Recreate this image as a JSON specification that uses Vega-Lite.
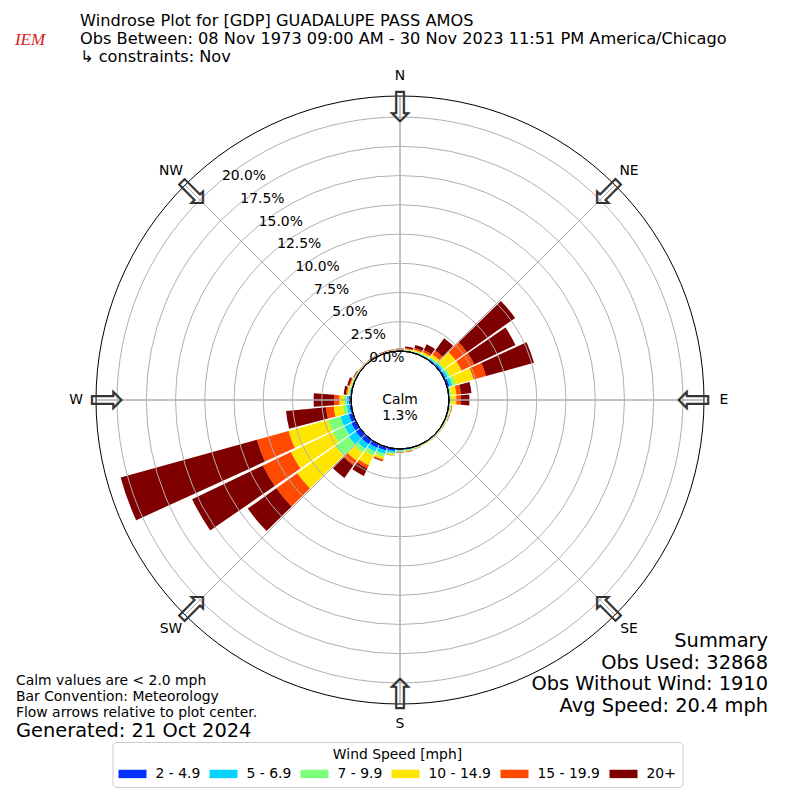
{
"$schema": "https://vega.github.io/schema/vega-lite/v6.json",
"width": 800, "height": 800, "padding": 0, "autosize": {"type": "none"},
"background": "white",
"config": {"view": {"stroke": null}, "font": "DejaVu Sans", "text": {"font": "DejaVu Sans", "color": "black"}},
"datasets": {
"bars": [
{"dir":0,"speed":"2 - 4.9","pct":0.03},{"dir":0,"speed":"5 - 6.9","pct":0.03},{"dir":0,"speed":"7 - 9.9","pct":0.03},{"dir":0,"speed":"10 - 14.9","pct":0.04},{"dir":0,"speed":"15 - 19.9","pct":0.03},{"dir":0,"speed":"20+","pct":0.05},
{"dir":10,"speed":"2 - 4.9","pct":0.04},{"dir":10,"speed":"5 - 6.9","pct":0.04},{"dir":10,"speed":"7 - 9.9","pct":0.04},{"dir":10,"speed":"10 - 14.9","pct":0.08},{"dir":10,"speed":"15 - 19.9","pct":0.06},{"dir":10,"speed":"20+","pct":0.14},
{"dir":20,"speed":"2 - 4.9","pct":0.05},{"dir":20,"speed":"5 - 6.9","pct":0.05},{"dir":20,"speed":"7 - 9.9","pct":0.05},{"dir":20,"speed":"10 - 14.9","pct":0.12},{"dir":20,"speed":"15 - 19.9","pct":0.13},{"dir":20,"speed":"20+","pct":0.30},
{"dir":30,"speed":"2 - 4.9","pct":0.06},{"dir":30,"speed":"5 - 6.9","pct":0.06},{"dir":30,"speed":"7 - 9.9","pct":0.06},{"dir":30,"speed":"10 - 14.9","pct":0.17},{"dir":30,"speed":"15 - 19.9","pct":0.20},{"dir":30,"speed":"20+","pct":0.55},
{"dir":40,"speed":"2 - 4.9","pct":0.10},{"dir":40,"speed":"5 - 6.9","pct":0.10},{"dir":40,"speed":"7 - 9.9","pct":0.10},{"dir":40,"speed":"10 - 14.9","pct":0.30},{"dir":40,"speed":"15 - 19.9","pct":0.40},{"dir":40,"speed":"20+","pct":1.30},
{"dir":50,"speed":"2 - 4.9","pct":0.15},{"dir":50,"speed":"5 - 6.9","pct":0.15},{"dir":50,"speed":"7 - 9.9","pct":0.15},{"dir":50,"speed":"10 - 14.9","pct":1.20},{"dir":50,"speed":"15 - 19.9","pct":1.20},{"dir":50,"speed":"20+","pct":5.05},
{"dir":60,"speed":"2 - 4.9","pct":0.15},{"dir":60,"speed":"5 - 6.9","pct":0.20},{"dir":60,"speed":"7 - 9.9","pct":0.20},{"dir":60,"speed":"10 - 14.9","pct":1.10},{"dir":60,"speed":"15 - 19.9","pct":1.20},{"dir":60,"speed":"20+","pct":3.90},
{"dir":70,"speed":"2 - 4.9","pct":0.20},{"dir":70,"speed":"5 - 6.9","pct":0.25},{"dir":70,"speed":"7 - 9.9","pct":0.30},{"dir":70,"speed":"10 - 14.9","pct":1.60},{"dir":70,"speed":"15 - 19.9","pct":1.10},{"dir":70,"speed":"20+","pct":4.25},
{"dir":80,"speed":"2 - 4.9","pct":0.06},{"dir":80,"speed":"5 - 6.9","pct":0.06},{"dir":80,"speed":"7 - 9.9","pct":0.08},{"dir":80,"speed":"10 - 14.9","pct":0.45},{"dir":80,"speed":"15 - 19.9","pct":0.40},{"dir":80,"speed":"20+","pct":0.90},
{"dir":90,"speed":"2 - 4.9","pct":0.06},{"dir":90,"speed":"5 - 6.9","pct":0.06},{"dir":90,"speed":"7 - 9.9","pct":0.06},{"dir":90,"speed":"10 - 14.9","pct":0.45},{"dir":90,"speed":"15 - 19.9","pct":0.40},{"dir":90,"speed":"20+","pct":0.72},
{"dir":100,"speed":"2 - 4.9","pct":0.06},{"dir":100,"speed":"5 - 6.9","pct":0.05},{"dir":100,"speed":"7 - 9.9","pct":0.05},{"dir":100,"speed":"10 - 14.9","pct":0.08},{"dir":100,"speed":"15 - 19.9","pct":0.04},{"dir":100,"speed":"20+","pct":0.02},
{"dir":110,"speed":"2 - 4.9","pct":0.05},{"dir":110,"speed":"5 - 6.9","pct":0.05},{"dir":110,"speed":"7 - 9.9","pct":0.05},{"dir":110,"speed":"10 - 14.9","pct":0.05},{"dir":110,"speed":"15 - 19.9","pct":0.03},{"dir":110,"speed":"20+","pct":0.02},
{"dir":120,"speed":"2 - 4.9","pct":0.05},{"dir":120,"speed":"5 - 6.9","pct":0.04},{"dir":120,"speed":"7 - 9.9","pct":0.04},{"dir":120,"speed":"10 - 14.9","pct":0.04},{"dir":120,"speed":"15 - 19.9","pct":0.02},{"dir":120,"speed":"20+","pct":0.01},
{"dir":130,"speed":"2 - 4.9","pct":0.04},{"dir":130,"speed":"5 - 6.9","pct":0.03},{"dir":130,"speed":"7 - 9.9","pct":0.03},{"dir":130,"speed":"10 - 14.9","pct":0.03},{"dir":130,"speed":"15 - 19.9","pct":0.01},{"dir":130,"speed":"20+","pct":0.01},
{"dir":140,"speed":"2 - 4.9","pct":0.04},{"dir":140,"speed":"5 - 6.9","pct":0.03},{"dir":140,"speed":"7 - 9.9","pct":0.03},{"dir":140,"speed":"10 - 14.9","pct":0.03},{"dir":140,"speed":"15 - 19.9","pct":0.01},{"dir":140,"speed":"20+","pct":0.01},
{"dir":150,"speed":"2 - 4.9","pct":0.04},{"dir":150,"speed":"5 - 6.9","pct":0.03},{"dir":150,"speed":"7 - 9.9","pct":0.03},{"dir":150,"speed":"10 - 14.9","pct":0.03},{"dir":150,"speed":"15 - 19.9","pct":0.01},{"dir":150,"speed":"20+","pct":0.01},
{"dir":160,"speed":"2 - 4.9","pct":0.05},{"dir":160,"speed":"5 - 6.9","pct":0.04},{"dir":160,"speed":"7 - 9.9","pct":0.04},{"dir":160,"speed":"10 - 14.9","pct":0.04},{"dir":160,"speed":"15 - 19.9","pct":0.02},{"dir":160,"speed":"20+","pct":0.01},
{"dir":170,"speed":"2 - 4.9","pct":0.08},{"dir":170,"speed":"5 - 6.9","pct":0.06},{"dir":170,"speed":"7 - 9.9","pct":0.05},{"dir":170,"speed":"10 - 14.9","pct":0.06},{"dir":170,"speed":"15 - 19.9","pct":0.03},{"dir":170,"speed":"20+","pct":0.02},
{"dir":180,"speed":"2 - 4.9","pct":0.10},{"dir":180,"speed":"5 - 6.9","pct":0.07},{"dir":180,"speed":"7 - 9.9","pct":0.06},{"dir":180,"speed":"10 - 14.9","pct":0.07},{"dir":180,"speed":"15 - 19.9","pct":0.03},{"dir":180,"speed":"20+","pct":0.02},
{"dir":190,"speed":"2 - 4.9","pct":0.20},{"dir":190,"speed":"5 - 6.9","pct":0.15},{"dir":190,"speed":"7 - 9.9","pct":0.12},{"dir":190,"speed":"10 - 14.9","pct":0.10},{"dir":190,"speed":"15 - 19.9","pct":0.02},{"dir":190,"speed":"20+","pct":0.01},
{"dir":200,"speed":"2 - 4.9","pct":0.30},{"dir":200,"speed":"5 - 6.9","pct":0.30},{"dir":200,"speed":"7 - 9.9","pct":0.25},{"dir":200,"speed":"10 - 14.9","pct":0.25},{"dir":200,"speed":"15 - 19.9","pct":0.10},{"dir":200,"speed":"20+","pct":0.05},
{"dir":210,"speed":"2 - 4.9","pct":0.35},{"dir":210,"speed":"5 - 6.9","pct":0.35},{"dir":210,"speed":"7 - 9.9","pct":0.40},{"dir":210,"speed":"10 - 14.9","pct":0.90},{"dir":210,"speed":"15 - 19.9","pct":0.30},{"dir":210,"speed":"20+","pct":0.70},
{"dir":220,"speed":"2 - 4.9","pct":0.45},{"dir":220,"speed":"5 - 6.9","pct":0.48},{"dir":220,"speed":"7 - 9.9","pct":0.42},{"dir":220,"speed":"10 - 14.9","pct":0.85},{"dir":220,"speed":"15 - 19.9","pct":0.47},{"dir":220,"speed":"20+","pct":1.33},
{"dir":230,"speed":"2 - 4.9","pct":0.46},{"dir":230,"speed":"5 - 6.9","pct":0.74},{"dir":230,"speed":"7 - 9.9","pct":1.40},{"dir":230,"speed":"10 - 14.9","pct":4.00},{"dir":230,"speed":"15 - 19.9","pct":2.20},{"dir":230,"speed":"20+","pct":3.00},
{"dir":240,"speed":"2 - 4.9","pct":0.43},{"dir":240,"speed":"5 - 6.9","pct":0.64},{"dir":240,"speed":"7 - 9.9","pct":1.13},{"dir":240,"speed":"10 - 14.9","pct":3.95},{"dir":240,"speed":"15 - 19.9","pct":2.65},{"dir":240,"speed":"20+","pct":6.70},
{"dir":250,"speed":"2 - 4.9","pct":0.35},{"dir":250,"speed":"5 - 6.9","pct":0.75},{"dir":250,"speed":"7 - 9.9","pct":1.10},{"dir":250,"speed":"10 - 14.9","pct":3.50},{"dir":250,"speed":"15 - 19.9","pct":2.80},{"dir":250,"speed":"20+","pct":12.10},
{"dir":260,"speed":"2 - 4.9","pct":0.15},{"dir":260,"speed":"5 - 6.9","pct":0.23},{"dir":260,"speed":"7 - 9.9","pct":0.35},{"dir":260,"speed":"10 - 14.9","pct":0.77},{"dir":260,"speed":"15 - 19.9","pct":0.67},{"dir":260,"speed":"20+","pct":3.43},
{"dir":270,"speed":"2 - 4.9","pct":0.20},{"dir":270,"speed":"5 - 6.9","pct":0.17},{"dir":270,"speed":"7 - 9.9","pct":0.23},{"dir":270,"speed":"10 - 14.9","pct":0.40},{"dir":270,"speed":"15 - 19.9","pct":0.45},{"dir":270,"speed":"20+","pct":1.75},
{"dir":280,"speed":"2 - 4.9","pct":0.08},{"dir":280,"speed":"5 - 6.9","pct":0.07},{"dir":280,"speed":"7 - 9.9","pct":0.08},{"dir":280,"speed":"10 - 14.9","pct":0.12},{"dir":280,"speed":"15 - 19.9","pct":0.10},{"dir":280,"speed":"20+","pct":0.20},
{"dir":290,"speed":"2 - 4.9","pct":0.05},{"dir":290,"speed":"5 - 6.9","pct":0.05},{"dir":290,"speed":"7 - 9.9","pct":0.06},{"dir":290,"speed":"10 - 14.9","pct":0.10},{"dir":290,"speed":"15 - 19.9","pct":0.07},{"dir":290,"speed":"20+","pct":0.17},
{"dir":300,"speed":"2 - 4.9","pct":0.04},{"dir":300,"speed":"5 - 6.9","pct":0.03},{"dir":300,"speed":"7 - 9.9","pct":0.04},{"dir":300,"speed":"10 - 14.9","pct":0.05},{"dir":300,"speed":"15 - 19.9","pct":0.04},{"dir":300,"speed":"20+","pct":0.05},
{"dir":310,"speed":"2 - 4.9","pct":0.03},{"dir":310,"speed":"5 - 6.9","pct":0.02},{"dir":310,"speed":"7 - 9.9","pct":0.03},{"dir":310,"speed":"10 - 14.9","pct":0.03},{"dir":310,"speed":"15 - 19.9","pct":0.02},{"dir":310,"speed":"20+","pct":0.02},
{"dir":320,"speed":"2 - 4.9","pct":0.03},{"dir":320,"speed":"5 - 6.9","pct":0.02},{"dir":320,"speed":"7 - 9.9","pct":0.02},{"dir":320,"speed":"10 - 14.9","pct":0.03},{"dir":320,"speed":"15 - 19.9","pct":0.02},{"dir":320,"speed":"20+","pct":0.02},
{"dir":330,"speed":"2 - 4.9","pct":0.03},{"dir":330,"speed":"5 - 6.9","pct":0.02},{"dir":330,"speed":"7 - 9.9","pct":0.02},{"dir":330,"speed":"10 - 14.9","pct":0.03},{"dir":330,"speed":"15 - 19.9","pct":0.02},{"dir":330,"speed":"20+","pct":0.02},
{"dir":340,"speed":"2 - 4.9","pct":0.03},{"dir":340,"speed":"5 - 6.9","pct":0.02},{"dir":340,"speed":"7 - 9.9","pct":0.02},{"dir":340,"speed":"10 - 14.9","pct":0.03},{"dir":340,"speed":"15 - 19.9","pct":0.02},{"dir":340,"speed":"20+","pct":0.03},
{"dir":350,"speed":"2 - 4.9","pct":0.03},{"dir":350,"speed":"5 - 6.9","pct":0.02},{"dir":350,"speed":"7 - 9.9","pct":0.03},{"dir":350,"speed":"10 - 14.9","pct":0.03},{"dir":350,"speed":"15 - 19.9","pct":0.03},{"dir":350,"speed":"20+","pct":0.04}
],
"rings": [{"v":2.5},{"v":5},{"v":7.5},{"v":10},{"v":12.5},{"v":15},{"v":17.5},{"v":20}],
"rlabels": [{"v":0,"label":"0.0%"},{"v":2.5,"label":"2.5%"},{"v":5,"label":"5.0%"},{"v":7.5,"label":"7.5%"},{"v":10,"label":"10.0%"},{"v":12.5,"label":"12.5%"},{"v":15,"label":"15.0%"},{"v":17.5,"label":"17.5%"},{"v":20,"label":"20.0%"}],
"dirs": [{"ang":0,"name":"N"},{"ang":45,"name":"NE"},{"ang":90,"name":"E"},{"ang":135,"name":"SE"},{"ang":180,"name":"S"},{"ang":225,"name":"SW"},{"ang":270,"name":"W"},{"ang":315,"name":"NW"}]
},
"layer": [
{
"data": {"name": "bars"},
"transform": [
{"calculate": "indexof(['2 - 4.9','5 - 6.9','7 - 9.9','10 - 14.9','15 - 19.9','20+'], datum.speed)", "as": "k"},
{"stack": "pct", "groupby": ["dir"], "sort": [{"field": "k", "order": "ascending"}], "as": ["r0", "r1"]},
{"calculate": "datum.dir - 4.5", "as": "a0"},
{"calculate": "datum.dir + 4.5", "as": "a1"}
],
"mark": {"type": "arc"},
"encoding": {
"theta": {"field": "a0", "type": "quantitative", "stack": null, "scale": {"type": "linear", "domain": [0, 360], "range": [0, 6.283185307179586]}},
"theta2": {"field": "a1"},
"radius": {"field": "r0", "type": "quantitative", "stack": null, "scale": {"type": "linear", "domain": [0, 21.8], "range": [49, 304], "zero": false}},
"radius2": {"field": "r1"},
"color": {"field": "speed", "type": "nominal",
"scale": {"domain": ["2 - 4.9","5 - 6.9","7 - 9.9","10 - 14.9","15 - 19.9","20+"], "range": ["#0130ff","#00d4ff","#7dff7a","#ffe600","#ff4a00","#7f0000"]},
"legend": {"title": "Wind Speed [mph]", "orient": "none", "legendX": 112.5, "legendY": 742, "direction": "horizontal", "columns": 6,
"symbolType": "M-1,-0.6H3V0.6H-1Z", "symbolSize": 196, "symbolStrokeWidth": 0, "symbolOpacity": 1,
"labelFontSize": 13.9, "titleFontSize": 13.9, "titleFontWeight": "normal", "titleAnchor": "middle",
"labelFont": "DejaVu Sans", "titleFont": "DejaVu Sans", "labelColor": "black", "titleColor": "black",
"strokeColor": "#cccccc", "fillColor": "white", "cornerRadius": 4, "padding": 6,
"columnPadding": 9, "labelOffset": 23, "titlePadding": 5}}
}
},
{
"data": {"name": "rings"},
"mark": {"type": "arc", "filled": false, "stroke": "#b0b0b0", "strokeWidth": 1},
"encoding": {
"theta": {"value": 0}, "theta2": {"value": 6.2832},
"radius": {"field": "v", "type": "quantitative", "stack": null, "scale": {"type": "linear", "domain": [0, 21.8], "range": [49, 304], "zero": false}}
}
},
{
"data": {"name": "dirs"},
"mark": {"type": "arc", "filled": false, "stroke": "#b0b0b0", "strokeWidth": 1},
"encoding": {
"theta": {"field": "ang", "type": "quantitative", "stack": null, "scale": {"type": "linear", "domain": [0, 360], "range": [0, 6.283185307179586]}},
"theta2": {"field": "ang"},
"radius": {"datum": 0, "type": "quantitative", "scale": {"type": "linear", "domain": [0, 21.8], "range": [49, 304], "zero": false}},
"radius2": {"datum": 21.8}
}
},
{
"data": {"values": [{"c": "outer"}]},
"mark": {"type": "arc", "filled": false, "stroke": "black", "strokeWidth": 1},
"encoding": {
"theta": {"value": 0}, "theta2": {"value": 6.2832},
"radius": {"datum": 21.8, "type": "quantitative", "scale": {"type": "linear", "domain": [0, 21.8], "range": [49, 304], "zero": false}}
}
},
{
"data": {"values": [{"c": "calm"}]},
"mark": {"type": "arc", "fill": "white", "stroke": "black", "strokeWidth": 1},
"encoding": {
"theta": {"value": 0}, "theta2": {"value": 6.2832},
"radius": {"datum": 0, "type": "quantitative", "scale": {"type": "linear", "domain": [0, 21.8], "range": [49, 304], "zero": false}}
}
},
{
"data": {"values": [{"c": "calm"}]},
"mark": {"type": "text", "fontSize": 13.9, "align": "center", "baseline": "middle", "lineHeight": 16},
"encoding": {"theta": {"value": 0}, "radius": {"value": 0}, "text": {"value": ["Calm", "1.3%"]}}
},
{
"data": {"name": "rlabels"},
"mark": {"type": "text", "fontSize": 13.9, "align": "left", "baseline": "alphabetic"},
"encoding": {
"theta": {"datum": 321, "type": "quantitative", "scale": {"type": "linear", "domain": [0, 360], "range": [0, 6.283185307179586]}},
"radius": {"field": "v", "type": "quantitative", "stack": null, "scale": {"type": "linear", "domain": [0, 21.8], "range": [49, 304], "zero": false}},
"text": {"field": "label"}
}
},
{
"data": {"name": "dirs"},
"mark": {"type": "text", "fontSize": 13.9, "align": "center", "baseline": "middle"},
"encoding": {
"theta": {"field": "ang", "type": "quantitative", "stack": null, "scale": {"type": "linear", "domain": [0, 360], "range": [0, 6.283185307179586]}},
"radius": {"datum": 23.5, "type": "quantitative", "scale": {"type": "linear", "domain": [0, 21.8], "range": [49, 304], "zero": false}},
"text": {"field": "name"}
}
},
{
"data": {"name": "dirs"},
"mark": {"type": "text", "fontSize": 43, "align": "center", "baseline": "middle", "color": "#333333"},
"encoding": {
"theta": {"field": "ang", "type": "quantitative", "stack": null, "scale": {"type": "linear", "domain": [0, 360], "range": [0, 6.283185307179586]}},
"radius": {"datum": 20.7, "type": "quantitative", "scale": {"type": "linear", "domain": [0, 21.8], "range": [49, 304], "zero": false}},
"angle": {"field": "ang", "type": "quantitative", "scale": null},
"text": {"value": "⇩"}
}
},
{
"data": {"values": [{"c": "t"}]},
"mark": {"type": "text", "fontSize": 16.2, "align": "left", "baseline": "alphabetic", "lineHeight": 18},
"encoding": {"x": {"value": 80}, "y": {"value": 26},
"text": {"value": ["Windrose Plot for [GDP] GUADALUPE PASS AMOS", "Obs Between: 08 Nov 1973 09:00 AM - 30 Nov 2023 11:51 PM America/Chicago", " ↳ constraints: Nov"]}}
},
{
"data": {"values": [{"c": "t"}]},
"mark": {"type": "text", "fontSize": 17, "align": "center", "baseline": "alphabetic", "font": "Liberation Serif", "fontStyle": "italic", "color": "#d42020"},
"encoding": {"x": {"value": 30}, "y": {"value": 45}, "text": {"value": "IEM"}}
},
{
"data": {"values": [{"c": "t"}]},
"mark": {"type": "text", "fontSize": 13.9, "align": "left", "baseline": "alphabetic", "lineHeight": 16},
"encoding": {"x": {"value": 16}, "y": {"value": 685},
"text": {"value": ["Calm values are < 2.0 mph", "Bar Convention: Meteorology", "Flow arrows relative to plot center."]}}
},
{
"data": {"values": [{"c": "t"}]},
"mark": {"type": "text", "fontSize": 19.4, "align": "left", "baseline": "alphabetic"},
"encoding": {"x": {"value": 16}, "y": {"value": 737}, "text": {"value": "Generated: 21 Oct 2024"}}
},
{
"data": {"values": [{"c": "t"}]},
"mark": {"type": "text", "fontSize": 19.4, "align": "right", "baseline": "alphabetic", "lineHeight": 21.7},
"encoding": {"x": {"value": 768}, "y": {"value": 647},
"text": {"value": ["Summary", "Obs Used: 32868", "Obs Without Wind: 1910", "Avg Speed: 20.4 mph"]}}
}
]
}
